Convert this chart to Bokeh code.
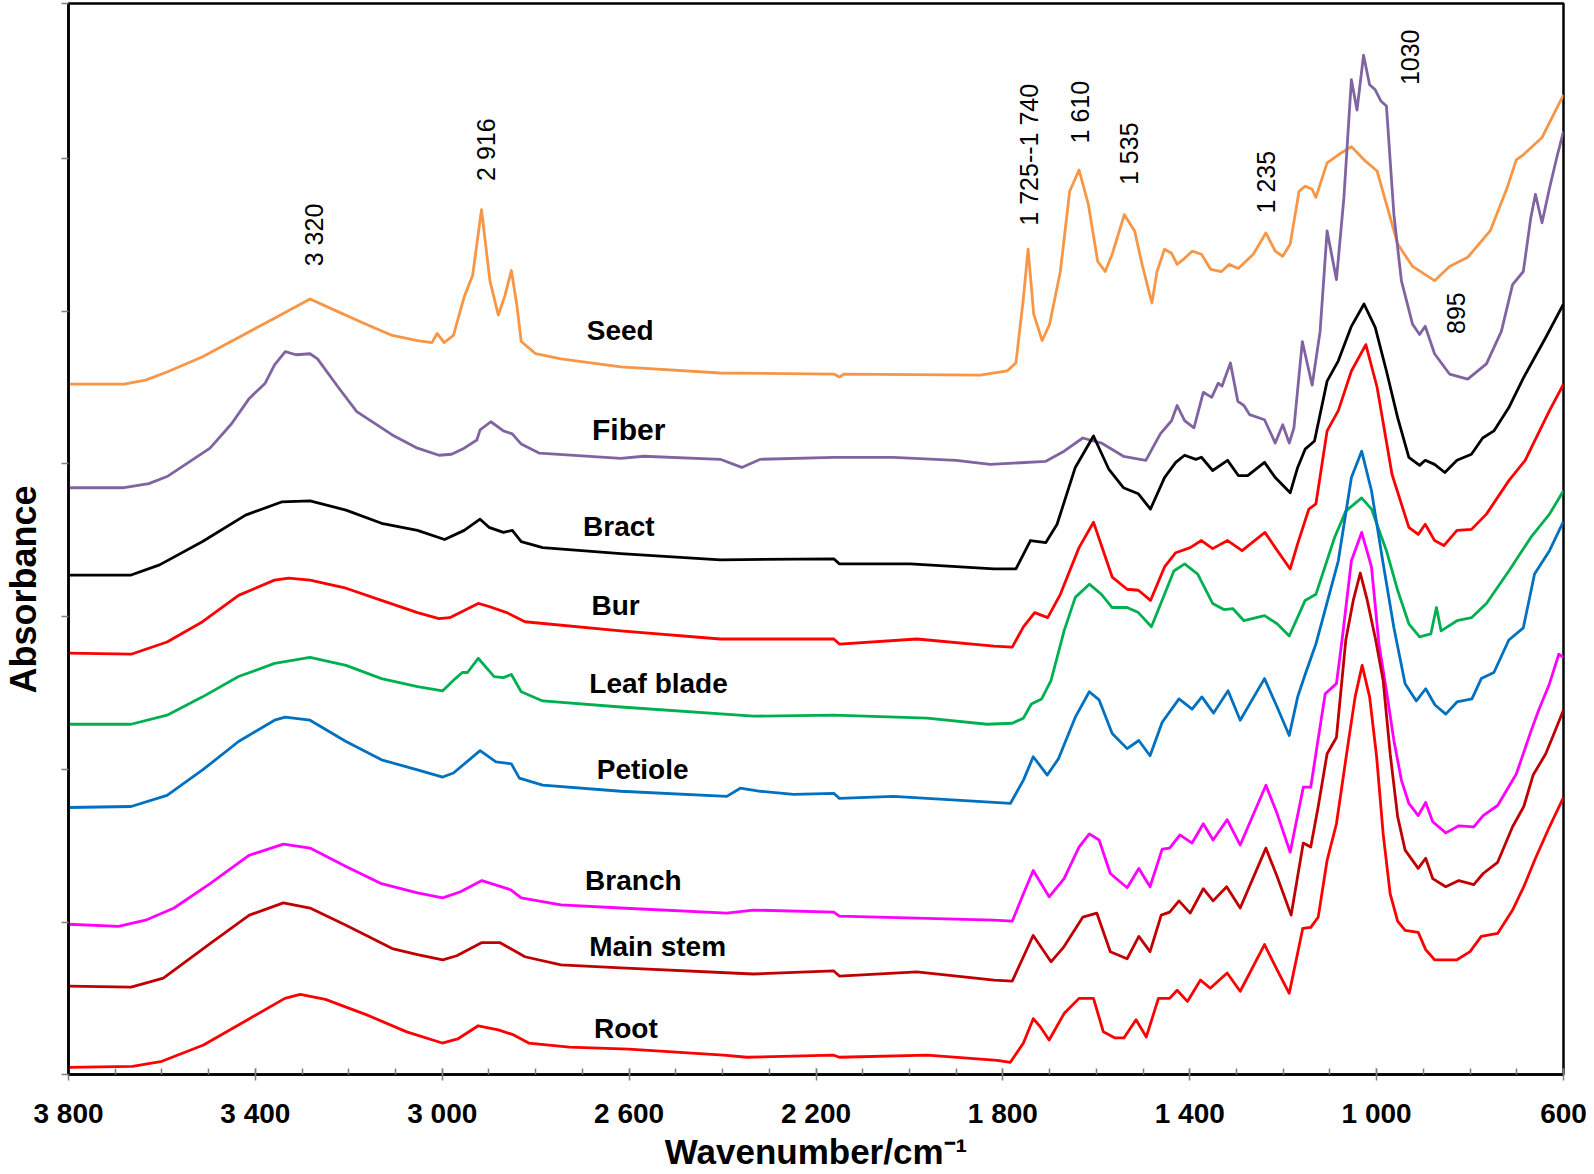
import math
from bokeh.plotting import figure
from bokeh.models import FixedTicker, Label, Range1d, Title
from bokeh.embed import file_html
from bokeh.resources import INLINE

# ---------------- data (wavenumber cm-1, stacked absorbance, arbitrary units) ----------------
seed = [(3800, 680), (3681, 680), (3635, 684), (3589, 692), (3513, 707), (3436, 726), (3359, 745),
        (3283, 764), (3221, 751), (3168, 740), (3107, 728), (3053, 723), (3022, 721), (3011, 730),
        (2996, 721), (2976, 728), (2961, 753), (2953, 766), (2942, 779), (2935, 787), (2916, 852),
        (2898, 782), (2880, 748), (2866, 767), (2852, 792), (2840, 757), (2831, 722), (2800, 710),
        (2746, 705), (2618, 697), (2405, 691), (2162, 690), (2150, 687), (2140, 690), (1848, 689),
        (1791, 693), (1772, 701), (1756, 765), (1746, 813), (1734, 749), (1716, 723), (1700, 739),
        (1677, 791), (1657, 870), (1637, 891), (1617, 857), (1597, 801), (1581, 791), (1566, 808),
        (1540, 847), (1518, 831), (1502, 798), (1481, 760), (1470, 791), (1454, 813), (1439, 809),
        (1427, 798), (1411, 804), (1395, 811), (1375, 808), (1355, 793), (1332, 791), (1316, 798),
        (1296, 794), (1264, 808), (1237, 829), (1217, 811), (1201, 806), (1185, 818), (1166, 870),
        (1153, 875), (1138, 872), (1130, 864), (1106, 898), (1082, 906), (1054, 914), (1027, 901),
        (999, 890), (975, 851), (955, 818), (923, 796), (876, 782), (844, 796), (805, 805),
        (757, 831), (721, 873), (701, 901), (686, 906), (646, 923), (600, 965)]

fiber = [(3800, 578), (3681, 578), (3628, 582), (3589, 589), (3497, 617), (3451, 641), (3413, 666),
         (3379, 681), (3359, 699), (3336, 712), (3313, 709), (3283, 710), (3267, 705), (3221, 676),
         (3183, 653), (3107, 630), (3053, 617), (3007, 610), (2980, 611), (2953, 617), (2926, 625),
         (2919, 635), (2896, 643), (2869, 634), (2850, 631), (2831, 621), (2792, 612), (2618, 607),
         (2569, 609), (2405, 606), (2359, 598), (2319, 606), (2162, 608), (2034, 608), (1900, 605),
         (1827, 601), (1708, 604), (1669, 614), (1629, 627), (1589, 622), (1542, 609), (1494, 605),
         (1463, 631), (1439, 644), (1427, 659), (1411, 644), (1391, 637), (1371, 672), (1353, 667),
         (1339, 681), (1331, 678), (1313, 701), (1297, 663), (1284, 659), (1272, 650), (1240, 645),
         (1217, 622), (1201, 640), (1187, 622), (1177, 637), (1159, 722), (1138, 679), (1121, 732),
         (1106, 831), (1086, 783), (1070, 864), (1054, 980), (1042, 950), (1028, 1004), (1015, 975),
         (1003, 970), (991, 959), (979, 954), (963, 847), (947, 782), (923, 739), (908, 729),
         (896, 737), (876, 710), (844, 690), (805, 685), (765, 700), (733, 732), (709, 778),
         (686, 791), (670, 844), (660, 867), (646, 839), (630, 873), (614, 904), (600, 929)]

bract = [(3800, 492), (3666, 492), (3605, 502), (3513, 525), (3421, 551), (3344, 564), (3283, 565),
         (3206, 556), (3130, 543), (3053, 536), (2995, 527), (2953, 536), (2919, 547), (2900, 539),
         (2869, 534), (2850, 536), (2831, 525), (2785, 519), (2618, 513), (2405, 507), (2162, 508),
         (2150, 503), (1998, 503), (1819, 498), (1772, 498), (1741, 526), (1708, 524), (1684, 542),
         (1645, 598), (1606, 629), (1573, 596), (1542, 578), (1510, 572), (1484, 557), (1454, 588),
         (1430, 603), (1411, 610), (1387, 606), (1375, 608), (1351, 595), (1319, 605), (1296, 590),
         (1276, 590), (1240, 603), (1217, 588), (1185, 573), (1169, 598), (1153, 616), (1133, 624),
         (1106, 683), (1082, 703), (1054, 737), (1027, 759), (1003, 736), (979, 693), (955, 647),
         (931, 608), (908, 600), (896, 605), (876, 601), (854, 593), (828, 605), (797, 611),
         (773, 627), (749, 634), (717, 657), (686, 686), (662, 706), (638, 726), (600, 759)]

bur = [(3800, 415), (3666, 414), (3589, 426), (3513, 446), (3436, 472), (3359, 487), (3329, 489),
       (3283, 487), (3206, 479), (3130, 467), (3053, 455), (3007, 449), (2984, 450), (2923, 464),
       (2900, 461), (2862, 455), (2823, 446), (2618, 437), (2405, 429), (2162, 429), (2150, 424),
       (1984, 429), (1819, 422), (1780, 421), (1756, 441), (1732, 455), (1704, 450), (1677, 473),
       (1637, 519), (1606, 544), (1566, 490), (1534, 478), (1510, 477), (1484, 467), (1454, 500),
       (1430, 514), (1399, 519), (1375, 526), (1351, 518), (1319, 526), (1288, 516), (1239, 534),
       (1217, 519), (1185, 498), (1169, 523), (1145, 557), (1130, 562), (1106, 634), (1082, 654),
       (1054, 693), (1023, 719), (999, 677), (967, 591), (931, 539), (911, 532), (896, 542),
       (876, 526), (856, 521), (828, 536), (797, 537), (765, 552), (717, 585), (682, 605),
       (662, 624), (630, 654), (600, 680)]

leaf_blade = [(3800, 345), (3666, 345), (3589, 354), (3513, 372), (3436, 392), (3359, 405), (3283, 411),
              (3206, 403), (3130, 390), (3053, 382), (2999, 378), (2972, 390), (2957, 396), (2946, 396),
              (2923, 410), (2889, 392), (2869, 391), (2852, 394), (2831, 377), (2785, 368), (2618, 362),
              (2334, 353), (2162, 354), (1962, 351), (1834, 345), (1780, 346), (1756, 351), (1739, 365),
              (1717, 370), (1697, 388), (1669, 437), (1645, 470), (1615, 483), (1589, 473), (1566, 460),
              (1534, 460), (1510, 455), (1482, 441), (1454, 473), (1434, 496), (1411, 503), (1383, 493),
              (1351, 464), (1327, 458), (1308, 459), (1284, 447), (1240, 452), (1213, 444), (1187, 432),
              (1153, 467), (1130, 473), (1090, 529), (1066, 555), (1032, 568), (1011, 557), (979, 516),
              (955, 477), (931, 444), (908, 431), (884, 434), (872, 460), (862, 437), (828, 447),
              (797, 450), (765, 464), (717, 496), (670, 529), (630, 552), (600, 575)]

petiole = [(3800, 263), (3666, 264), (3589, 275), (3513, 300), (3436, 328), (3359, 349), (3336, 352),
           (3283, 349), (3206, 328), (3130, 310), (3053, 300), (2999, 293), (2976, 297), (2919, 319),
           (2885, 308), (2852, 306), (2835, 292), (2785, 285), (2618, 279), (2391, 274), (2362, 282),
           (2319, 279), (2248, 276), (2162, 277), (2150, 272), (2034, 274), (1819, 268), (1784, 267),
           (1756, 290), (1735, 313), (1705, 295), (1681, 311), (1645, 352), (1615, 377), (1594, 369),
           (1566, 336), (1534, 321), (1509, 329), (1485, 314), (1459, 347), (1423, 370), (1395, 360),
           (1374, 372), (1349, 356), (1318, 378), (1292, 349), (1240, 390), (1213, 362), (1187, 334),
           (1169, 372), (1153, 394), (1130, 424), (1082, 506), (1054, 588), (1032, 614), (1011, 575),
           (987, 506), (963, 440), (939, 385), (915, 368), (895, 380), (875, 364), (852, 355),
           (828, 367), (796, 370), (776, 390), (749, 396), (717, 428), (686, 440), (662, 493),
           (630, 516), (600, 545)]

branch = [(3800, 148), (3693, 146), (3635, 152), (3574, 164), (3497, 188), (3413, 216), (3340, 227),
          (3283, 223), (3206, 205), (3130, 188), (3053, 179), (2999, 174), (2961, 180), (2915, 191),
          (2854, 182), (2831, 174), (2746, 167), (2618, 164), (2391, 159), (2334, 162), (2162, 160),
          (2150, 156), (1819, 152), (1780, 151), (1756, 178), (1735, 201), (1701, 175), (1669, 193),
          (1637, 224), (1615, 237), (1594, 231), (1570, 198), (1534, 184), (1509, 203), (1485, 185),
          (1459, 222), (1443, 223), (1421, 236), (1395, 228), (1371, 247), (1350, 231), (1320, 251),
          (1292, 226), (1237, 285), (1213, 257), (1185, 219), (1157, 283), (1141, 283), (1129, 319),
          (1110, 375), (1086, 385), (1074, 428), (1054, 506), (1032, 534), (1011, 500), (995, 424),
          (979, 378), (963, 329), (947, 290), (931, 267), (911, 255), (895, 268), (880, 249),
          (852, 238), (824, 245), (792, 244), (772, 255), (741, 265), (701, 296), (669, 339),
          (653, 359), (630, 385), (610, 414), (600, 411)]

main_stem = [(3800, 87), (3666, 86), (3597, 95), (3497, 129), (3413, 157), (3340, 169), (3283, 164),
             (3206, 147), (3107, 124), (3053, 118), (2999, 113), (2969, 117), (2915, 130), (2877, 130),
             (2823, 116), (2746, 108), (2618, 105), (2334, 99), (2162, 102), (2150, 97), (1984, 101),
             (1819, 93), (1780, 92), (1756, 116), (1735, 137), (1697, 111), (1669, 126), (1629, 155),
             (1599, 159), (1570, 121), (1534, 114), (1509, 136), (1485, 121), (1461, 157), (1443, 160),
             (1423, 171), (1399, 159), (1371, 183), (1350, 171), (1321, 185), (1292, 164), (1237, 223),
             (1213, 195), (1183, 157), (1157, 228), (1141, 224), (1125, 264), (1106, 316), (1086, 332),
             (1066, 428), (1050, 467), (1035, 494), (1020, 467), (1002, 428), (986, 388), (971, 316),
             (955, 254), (939, 221), (911, 203), (895, 213), (880, 193), (852, 185), (824, 191),
             (792, 187), (772, 198), (741, 209), (709, 244), (685, 264), (665, 295), (638, 316),
             (622, 334), (600, 359)]

root = [(3800, 7), (3663, 8), (3600, 13), (3511, 29), (3424, 52), (3337, 75), (3304, 79), (3250, 74),
        (3163, 59), (3076, 42), (3000, 31), (2967, 35), (2923, 48), (2880, 44), (2847, 39), (2815, 31),
        (2728, 27), (2601, 25), (2398, 19), (2348, 17), (2162, 19), (2150, 17), (1962, 19), (1812, 14),
        (1784, 12), (1756, 31), (1735, 55), (1720, 47), (1701, 34), (1669, 60), (1637, 75), (1606, 75),
        (1585, 42), (1560, 36), (1541, 36), (1515, 54), (1493, 37), (1467, 75), (1443, 75), (1427, 83),
        (1405, 72), (1377, 93), (1356, 85), (1320, 100), (1292, 82), (1240, 128), (1213, 103),
        (1187, 80), (1158, 144), (1141, 145), (1125, 155), (1106, 211), (1086, 247), (1062, 323),
        (1046, 372), (1031, 403), (1015, 372), (1000, 313), (986, 237), (971, 178), (955, 151),
        (939, 142), (911, 140), (895, 123), (876, 113), (852, 113), (828, 113), (800, 121),
        (776, 136), (741, 139), (709, 162), (685, 185), (660, 213), (630, 244), (600, 273)]

series_names = ["Seed", "Fiber", "Bract", "Bur", "Leaf blade", "Petiole", "Branch", "Main stem", "Root"]
series_data = [seed, fiber, bract, bur, leaf_blade, petiole, branch, main_stem, root]
series_colors = ["#F79646", "#8064A2", "#000000", "#FF0000", "#00B050", "#0070C0", "#FF00FF", "#C00000", "#FF0000"]

# series name label anchors (wavenumber, absorbance)
name_wn = [2619, 2601, 2622, 2629, 2537, 2571, 2591, 2539, 2607]
name_abs = [733, 635, 540, 462, 385, 300, 191, 126, 45]

# band annotations
band_text = ["3 320", "2 916", "1 725--1 740", "1 610", "1 535", "1 235", "1030", "895"]
band_wn = [3274, 2906, 1744, 1635, 1529, 1237, 929, 831]
band_abs = [827, 911, 906, 948, 907, 879, 1002, 750]

x_ticks = [3800, 3400, 3000, 2600, 2200, 1800, 1400, 1000, 600]
x_tick_labels = ["3 800", "3 400", "3 000", "2 600", "2 200", "1 800", "1 400", "1 000", "600"]
x_minor_ticks = list(range(600, 3801, 100))
y_ticks = [0, 150, 300, 451, 602, 752, 902, 1055]

# ---------------- figure ----------------
FONT = "Liberation Sans"
p = figure(width=1594, height=1174, output_backend="svg", toolbar_location=None,
           x_range=Range1d(3800, 600), y_range=Range1d(0, 1055),
           min_border_left=68, min_border_right=31, min_border_top=3, min_border_bottom=100)
p.background_fill_color = "white"
p.border_fill_color = "white"
p.xgrid.visible = False
p.ygrid.visible = False
p.outline_line_color = "black"
p.outline_line_width = 2.5

xa = p.xaxis[0]
xa.ticker = FixedTicker(ticks=x_ticks, minor_ticks=x_minor_ticks)
xa.major_label_overrides = {t: s for t, s in zip(x_ticks, x_tick_labels)}
xa.axis_line_color = "black"
xa.axis_line_width = 2.5
xa.major_tick_line_color = "#808080"
xa.major_tick_line_width = 1.5
xa.major_tick_in = 6
xa.major_tick_out = 6
xa.minor_tick_line_color = "#808080"
xa.minor_tick_line_width = 1.5
xa.minor_tick_in = 6
xa.minor_tick_out = 0
xa.major_label_standoff = 17
xa.major_label_text_font = FONT
xa.major_label_text_font_style = "bold"
xa.major_label_text_font_size = "28px"
xa.major_label_text_color = "black"
xa.axis_label = "Wavenumber/cm\u207b\u00b9"
xa.axis_label_text_font = FONT
xa.axis_label_text_font_style = "bold"
xa.axis_label_text_font_size = "35px"
xa.axis_label_text_color = "black"
xa.axis_label_standoff = 0

ya = p.yaxis[0]
ya.ticker = FixedTicker(ticks=y_ticks, minor_ticks=[])
ya.major_label_overrides = {t: " " for t in y_ticks}
ya.major_label_text_font_size = "1px"
ya.major_label_standoff = 15
ya.axis_line_color = "black"
ya.axis_line_width = 2.5
ya.major_tick_line_color = "#808080"
ya.major_tick_line_width = 1.5
ya.major_tick_in = 0
ya.major_tick_out = 7

# y-axis title, placed in the left panel
p.add_layout(Title(text="Absorbance", align="left", offset=381, standoff=0,
                   text_font=FONT, text_font_style="bold", text_font_size="36px",
                   text_color="black"), "left")

for pts, col in zip(series_data, series_colors):
    wn = [a for a, b in pts]
    ab = [b for a, b in pts]
    p.line(wn, ab, line_color=col, line_width=2.8, line_join="round")

for name, x, y in zip(series_names, name_wn, name_abs):
    p.add_layout(Label(x=x, y=y, text=name, text_font=FONT, text_font_style="bold",
                       text_font_size="30px" if name == "Fiber" else "28px",
                       text_align="center", text_baseline="middle", text_color="black"))

for t, x, y in zip(band_text, band_wn, band_abs):
    p.add_layout(Label(x=x, y=y, text=t, angle=math.pi / 2, text_font=FONT,
                       text_font_size="25px", text_align="center", text_baseline="middle",
                       text_color="black"))

open("out.html", "w").write(file_html(p, INLINE))
